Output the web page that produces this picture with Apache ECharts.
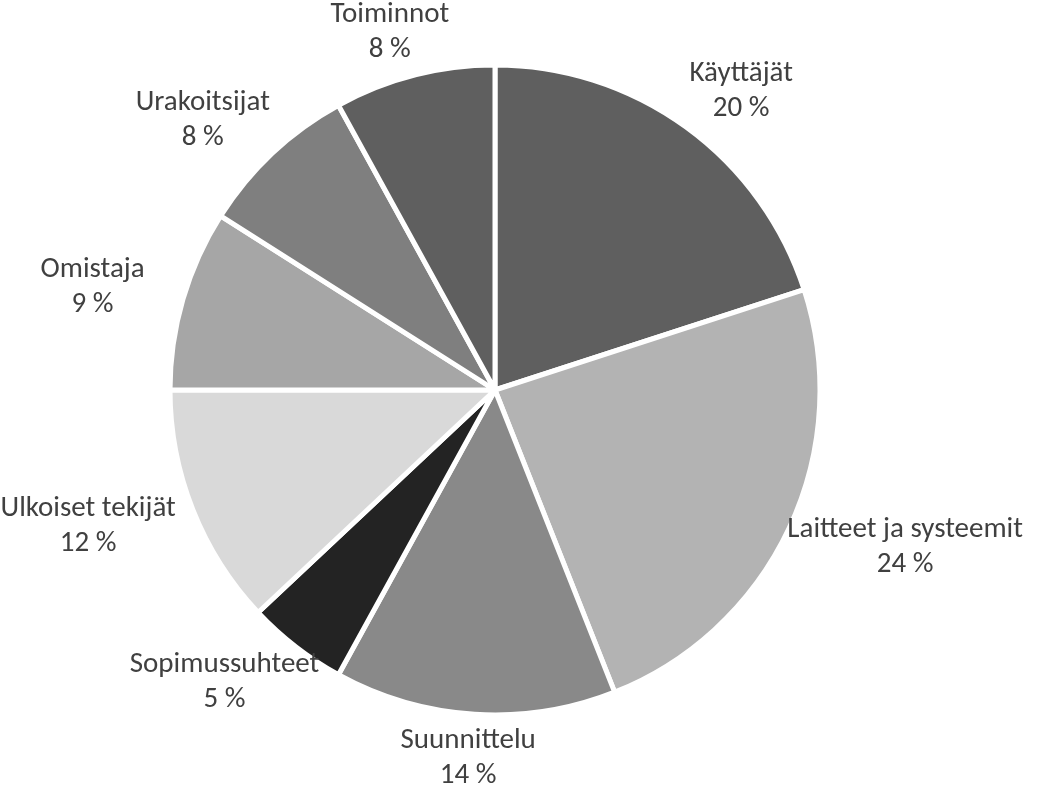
<!DOCTYPE html>
<html lang="fi">
<head>
    <meta charset="utf-8">
    <title>Pie</title>
    <script src="https://cdn.jsdelivr.net/npm/echarts@6/dist/echarts.min.js"></script>
    <style>
        html, body { margin: 0; padding: 0; background: #ffffff; }
        #main { width: 1040px; height: 794px; }
    </style>
</head>
<body>
<div id="main"></div>
<script type="text/javascript">
    // data
    var categories = ['Käyttäjät', 'Laitteet ja systeemit', 'Suunnittelu', 'Sopimussuhteet',
        'Ulkoiset tekijät', 'Omistaja', 'Urakoitsijat', 'Toiminnot'];
    var values = [20, 24, 14, 5, 12, 9, 8, 8];
    var colors = ['#5f5f5f', '#b3b3b3', '#898989', '#232323', '#d9d9d9', '#a6a6a6', '#7f7f7f', '#5f5f5f'];

    var cx = 495, cy = 390, R = 325;
    var total = values.reduce(function (a, b) { return a + b; }, 0);

    var myChart = echarts.init(document.getElementById('main'));

    var seriesData = [];
    for (var i = 0; i < categories.length; i++) {
        seriesData.push({ name: categories[i], value: values[i], itemStyle: { color: colors[i] } });
    }

    // labels sit outside the slice, pushed out along the mid angle (more for wide text)
    function placeLabel(params) {
        var idx = params.dataIndex;
        var cum = 0;
        for (var k = 0; k < idx; k++) cum += values[k];
        var theta = (cum + values[idx] / 2) / total * Math.PI * 2;
        var ux = Math.sin(theta), uy = -Math.cos(theta);
        var w = params.labelRect.width, h = params.labelRect.height;
        return {
            x: cx + ux * (R + 67 + 0.52 * w / 2),
            y: cy + uy * (R + 1.27 * h / 2),
            align: 'center',
            verticalAlign: 'middle'
        };
    }

    var option = {
        animation: false,
        series: [{
            type: 'pie',
            center: [cx, cy],
            radius: [0, R],
            startAngle: 90,
            clockwise: true,
            itemStyle: {
                borderColor: '#ffffff',
                borderWidth: 5
            },
            label: {
                show: true,
                position: 'inside',
                formatter: function (p) { return p.name + '\n' + p.value + ' %'; },
                color: '#404040',
                fontFamily: 'Carlito, Lato, sans-serif',
                fontSize: 29,
                lineHeight: 35,
                align: 'center'
            },
            labelLine: { show: false },
            labelLayout: placeLabel,
            emphasis: { disabled: true },
            data: seriesData
        }]
    };

    myChart.setOption(option);
</script>
</body>
</html>
